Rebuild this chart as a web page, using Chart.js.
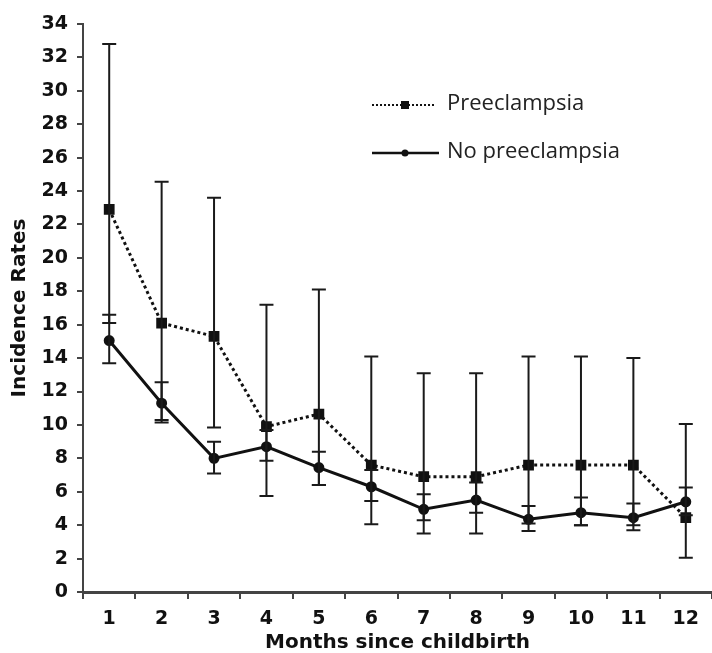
<!DOCTYPE html>
<html>
<head>
<meta charset="utf-8">
<script src="https://cdn.jsdelivr.net/npm/chart.js@4.4.0/dist/chart.umd.min.js"></script>
<style>
  html, body { margin: 0; padding: 0; background: #fff; }
  #wrap { width: 712px; height: 653px; }
</style>
</head>
<body>
<div id="wrap"><canvas id="grafico" width="712" height="653"></canvas></div>
<script>
const months = ['1', '2', '3', '4', '5', '6', '7', '8', '9', '10', '11', '12'];
const yTicks = [0, 2, 4, 6, 8, 10, 12, 14, 16, 18, 20, 22, 24, 26, 28, 30, 32, 34];

const preeclampsia = [22.9, 16.1, 15.3, 9.9, 10.65, 7.6, 6.9, 6.9, 7.6, 7.6, 7.6, 4.45];
const preLow = [16.1, 10.3, 9.85, 5.75, 6.4, 4.05, 3.5, 3.5, 4.1, 4.0, 4.0, 2.05];
const preHigh = [32.8, 24.55, 23.6, 17.2, 18.1, 14.1, 13.1, 13.1, 14.1, 14.1, 14.0, 10.05];

const noPre = [15.05, 11.3, 8.0, 8.7, 7.45, 6.3, 4.95, 5.5, 4.35, 4.75, 4.45, 5.4];
const noPreLow = [13.7, 10.15, 7.1, 7.85, 6.4, 5.45, 4.3, 4.75, 3.65, 4.0, 3.7, 4.6];
const noPreHigh = [16.6, 12.55, 9.0, 9.7, 8.4, 7.3, 5.85, 6.55, 5.15, 5.65, 5.3, 6.25];

const ctx = document.getElementById('grafico').getContext('2d');

const tickFont = { family: 'DejaVu Sans', weight: 'bold', size: 19 };
const titleFont = { family: 'DejaVu Sans', weight: 'bold', size: 20, lineHeight: 1 };
const inkColor = '#111';
const axisColor = '#444';

// error bars: vertical line + caps, placed with the chart's own scales
const errorBars = {
  id: 'errorBars',
  afterDatasetsDraw(chart) {
    const xs = chart.scales.x, ys = chart.scales.y;
    const c = chart.ctx;
    const sets = [[preLow, preHigh], [noPreLow, noPreHigh]];
    c.save();
    c.strokeStyle = '#1a1a1a';
    c.lineWidth = 2;
    sets.forEach(([lo, hi]) => {
      lo.forEach((v, i) => {
        const x = xs.getPixelForValue(i);
        const y1 = ys.getPixelForValue(v);
        const y2 = ys.getPixelForValue(hi[i]);
        c.beginPath();
        c.moveTo(x, y1); c.lineTo(x, y2);
        c.moveTo(x - 7, y1); c.lineTo(x + 7, y1);
        c.moveTo(x - 7, y2); c.lineTo(x + 7, y2);
        c.stroke();
      });
    });
    c.restore();
  }
};

// legend inside the plot, like the original figure
const insideLegend = {
  id: 'insideLegend',
  afterDraw(chart) {
    const c = chart.ctx;
    c.save();
    c.strokeStyle = inkColor;
    c.fillStyle = inkColor;
    c.lineWidth = 2;
    // Preeclampsia
    c.setLineDash([2, 2]);
    c.beginPath(); c.moveTo(372, 105); c.lineTo(436, 105); c.stroke();
    c.setLineDash([]);
    c.fillRect(401, 101, 8, 8);
    // No preeclampsia
    c.lineWidth = 2.5;
    c.beginPath(); c.moveTo(372, 153); c.lineTo(439, 153); c.stroke();
    c.beginPath(); c.arc(405, 153, 3.5, 0, Math.PI * 2); c.fill();
    c.fillStyle = '#222';
    c.font = '22px "Open Sans"';
    c.textBaseline = 'middle';
    c.fillText('Preeclampsia', 447, 104);
    c.fillText('No preeclampsia', 447, 152);
    c.restore();
  }
};

const myChart = new Chart(ctx, {
  type: 'line',
  data: {
    labels: months,
    datasets: [
      {
        label: 'Preeclampsia',
        data: preeclampsia,
        borderColor: inkColor,
        backgroundColor: inkColor,
        borderWidth: 3,
        borderDash: [3, 3],
        pointStyle: 'rect',
        pointRadius: 5.5,
        tension: 0,
      },
      {
        label: 'No preeclampsia',
        data: noPre,
        borderColor: inkColor,
        backgroundColor: inkColor,
        borderWidth: 3,
        pointStyle: 'circle',
        pointRadius: 4,
        tension: 0,
      }
    ]
  },
  options: {
    responsive: false,
    animation: false,
    layout: {
      autoPadding: false,
      padding: { top: 24, right: 0, bottom: 0, left: 0 }
    },
    plugins: {
      legend: { display: false },
      tooltip: { enabled: false }
    },
    scales: {
      x: {
        offset: true,
        grid: {
          offset: true,
          drawOnChartArea: false,
          color: axisColor,
          lineWidth: 2,
          tickLength: 7,
        },
        border: { color: axisColor, width: 3 },
        ticks: { color: inkColor, font: tickFont, padding: 9 },
        title: {
          display: true,
          text: 'Months since childbirth',
          color: inkColor,
          font: titleFont,
          padding: { top: 0, bottom: 0 }
        },
        afterFit(scale) { scale.height = 61; }
      },
      y: {
        min: 0,
        max: 34,
        afterBuildTicks(scale) { scale.ticks = yTicks.map(v => ({ value: v })); },
        grid: {
          drawOnChartArea: false,
          color: axisColor,
          lineWidth: 2,
          tickLength: 6,
        },
        border: { color: axisColor, width: 2 },
        ticks: { color: inkColor, font: tickFont, padding: 9 },
        title: {
          display: true,
          text: 'Incidence Rates',
          color: inkColor,
          font: titleFont,
          padding: { top: 10, bottom: 0 }
        },
        afterFit(scale) { scale.width = 83; }
      }
    }
  },
  plugins: [errorBars, insideLegend]
});
</script>
</body>
</html>
